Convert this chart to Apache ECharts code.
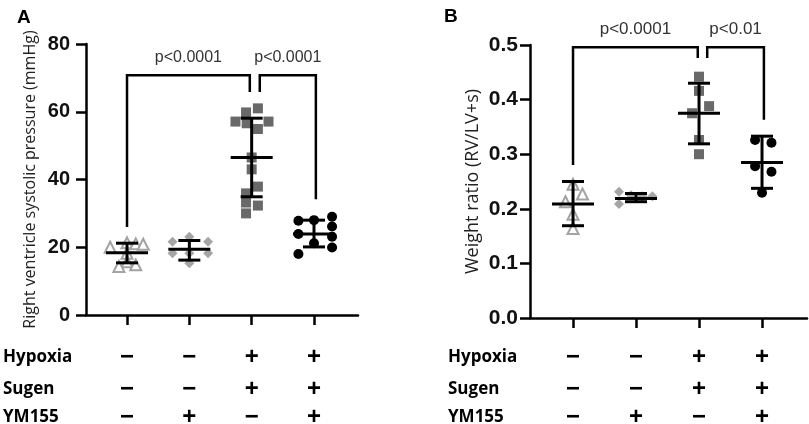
<!DOCTYPE html>
<html>
<head>
    <meta charset="UTF-8">
    <title></title>
    <script type="text/javascript" src="https://cdn.jsdelivr.net/npm/echarts@6/dist/echarts.min.js"></script>
</head>
<body style="margin:0;background:#fff">
<div id="main" style="width: 809px;height:424px;"></div>
<script type="text/javascript">
    // groups: control, YM155, Hypoxia+Sugen, Hypoxia+Sugen+YM155
    var rowNames = ['Hypoxia', 'Sugen', 'YM155'];
    var rowSigns = [['−', '−', '+', '+'], ['−', '−', '+', '+'], ['−', '+', '−', '+']];

    // A: right ventricle systolic pressure (mmHg), values and horizontal jitter per group
    var rvspValues = [
        [20.0, 21.3, 21.0, 20.9, 18.2, 15.7, 14.3, 14.8],
        [21.6, 23.1, 21.6, 18.2, 18.2, 18.2, 15.3],
        [59.8, 61.0, 57.1, 56.6, 57.1, 54.9, 46.5, 43.0, 37.9, 35.9, 33.2, 32.3, 30.0],
        [27.8, 28.0, 29.0, 26.1, 23.9, 23.1, 21.2, 19.9, 18.0]
    ];
    var rvspJitter = [
        [-0.27, 0, 0.14, 0.26, 0, 0, -0.13, 0.14],
        [-0.27, 0, 0.3, -0.27, 0, 0.3, 0],
        [-0.09, 0.1, -0.26, -0.08, 0.27, 0.1, 0, 0, 0.1, -0.09, -0.09, 0.1, -0.09],
        [-0.25, 0, 0.29, 0.29, -0.25, 0.29, 0, 0.29, -0.25]
    ];
    var rvspMean = [18.4, 19.4, 46.5, 23.9];
    var rvspLow = [15.4, 16.2, 34.9, 20.1];
    var rvspHigh = [21.2, 22.0, 58.1, 28.0];
    // brackets: [x left, y left end, x right, y right end, y top]
    var rvspBrackets = [[0, 26.0, 1.97, 65.8, 70.8], [2.13, 65.8, 3.03, 34.2, 70.8]];
    var rvspP = ['p<0.0001', 'p<0.0001'];

    // B: weight ratio RV/(LV+S)
    var ratioValues = [
        [0.245, 0.227, 0.213, 0.190, 0.164],
        [0.231, 0.225, 0.223, 0.223, 0.209],
        [0.442, 0.416, 0.388, 0.375, 0.326, 0.300],
        [0.326, 0.321, 0.278, 0.268, 0.2295]
    ];
    var ratioJitter = [
        [0, 0.15, -0.12, 0, 0],
        [-0.27, -0.08, 0.1, 0.26, -0.27],
        [0, 0, 0.16, -0.11, 0, 0],
        [-0.11, 0.15, -0.11, 0.15, 0]
    ];
    var ratioMean = [0.209, 0.219, 0.375, 0.285];
    var ratioLow = [0.169, 0.213, 0.319, 0.2375];
    var ratioHigh = [0.250, 0.228, 0.430, 0.333];
    var ratioBrackets = [[0, 0.280, 1.98, 0.476, 0.496], [2.13, 0.476, 3.03, 0.363, 0.496]];
    var ratioP = ['p<0.0001', 'p<0.01'];

    var groupSymbols = [
        {symbol: 'triangle', symbolSize: 11, itemStyle: {color: '#fff', borderColor: '#a3a3a3', borderWidth: 2, opacity: 1}},
        {symbol: 'diamond', symbolSize: 10, itemStyle: {color: '#a5a5a5', opacity: 1}},
        {symbol: 'rect', symbolSize: 10, itemStyle: {color: '#696969', opacity: 1}},
        {symbol: 'circle', symbolSize: 10, itemStyle: {color: '#000', opacity: 1}}
    ];

    var myChart = echarts.init(document.getElementById('main'));

    function mainX(grid, min, max) {
        return {
            type: 'value', gridIndex: grid, min: min, max: max,
            axisLine: {show: true, onZero: false, lineStyle: {color: '#000', width: 2.5}},
            axisTick: {show: true, customValues: [0, 1, 2, 3], length: 10, lineStyle: {color: '#000', width: 2.5}},
            axisLabel: {show: false},
            splitLine: {show: false}
        };
    }

    function rowX(grid, min, max, row, offset, gap) {
        return {
            type: 'value', gridIndex: grid, min: min, max: max, position: 'bottom', offset: offset,
            axisLine: {show: false, onZero: false}, axisTick: {show: false}, splitLine: {show: false},
            axisLabel: {
                customValues: [0, 1, 2, 3], margin: 0, verticalAlign: 'middle',
                fontFamily: 'Liberation Sans', fontWeight: 'bold', fontSize: 24, color: '#000',
                formatter: function (v) { return rowSigns[row][Math.round(v)]; }
            },
            name: rowNames[row], nameLocation: 'start', nameGap: gap,
            nameTextStyle: {align: 'left', verticalAlign: 'middle', fontFamily: 'Open Sans', fontWeight: 'bold', fontSize: 17, color: '#000'}
        };
    }

    function yAx(grid, max, interval, name, nameSize, margin, labelSize, fmt) {
        return {
            type: 'value', gridIndex: grid, min: 0, max: max, interval: interval,
            axisLine: {show: true, onZero: false, lineStyle: {color: '#000', width: 2.5}},
            axisTick: {show: true, length: 10, lineStyle: {color: '#000', width: 2.5}},
            splitLine: {show: false},
            axisLabel: {margin: margin, fontFamily: 'Liberation Sans', fontWeight: 'bold', fontSize: labelSize, color: '#111', formatter: fmt},
            name: name, nameLocation: 'middle', nameGap: 48,
            nameTextStyle: {fontFamily: 'Open Sans', fontSize: nameSize, color: '#222'}
        };
    }

    function scatterSeries(xi, yi, values, jitter) {
        return values.map(function (vals, g) {
            return Object.assign({
                type: 'scatter', xAxisIndex: xi, yAxisIndex: yi, z: 2, silent: true,
                data: vals.map(function (v, k) { return [g + jitter[g][k], v]; })
            }, groupSymbols[g]);
        });
    }

    function errorSeries(xi, yi, mean, low, high) {
        return {
            type: 'custom', xAxisIndex: xi, yAxisIndex: yi, z: 5, silent: true,
            encode: {x: 0, y: [1, 2, 3]},
            data: mean.map(function (m, i) { return [i, m, low[i], high[i]]; }),
            renderItem: function (params, api) {
                var c = api.coord([api.value(0), api.value(1)]);
                var lo = api.coord([api.value(0), api.value(2)]);
                var hi = api.coord([api.value(0), api.value(3)]);
                var st = {stroke: '#000', lineWidth: 3};
                return {type: 'group', children: [
                    {type: 'line', shape: {x1: c[0], y1: hi[1], x2: c[0], y2: lo[1]}, style: st},
                    {type: 'line', shape: {x1: c[0] - 11, y1: hi[1], x2: c[0] + 11, y2: hi[1]}, style: st},
                    {type: 'line', shape: {x1: c[0] - 11, y1: lo[1], x2: c[0] + 11, y2: lo[1]}, style: st},
                    {type: 'line', shape: {x1: c[0] - 21, y1: c[1], x2: c[0] + 21, y2: c[1]}, style: st}
                ]};
            }
        };
    }

    function bracketSeries(xi, yi, brackets, labels, size) {
        return {
            type: 'custom', xAxisIndex: xi, yAxisIndex: yi, z: 6, silent: true, clip: false,
            encode: {x: [0, 2], y: [1, 3, 4]},
            data: brackets,
            renderItem: function (params, api) {
                var a = api.coord([api.value(0), api.value(1)]);
                var b = api.coord([api.value(0), api.value(4)]);
                var c = api.coord([api.value(2), api.value(4)]);
                var d = api.coord([api.value(2), api.value(3)]);
                return {type: 'group', children: [
                    {type: 'polyline', shape: {points: [a, b, c, d]}, style: {stroke: '#000', lineWidth: 2.5, fill: null}},
                    {type: 'text', x: (b[0] + c[0]) / 2, y: b[1] - 18, style: {
                        text: labels[params.dataIndex], align: 'center', verticalAlign: 'middle',
                        textAlign: 'center', textVerticalAlign: 'middle',
                        font: size + 'px "Liberation Sans"', fill: '#333'
                    }}
                ]};
            }
        };
    }

    var option = {
        animation: false,
        title: [
            {text: 'A', left: 12, top: 3, textStyle: {fontFamily: 'Liberation Sans', fontWeight: 'bold', fontSize: 19, color: '#000'}},
            {text: 'B', left: 439, top: 2, textStyle: {fontFamily: 'Liberation Sans', fontWeight: 'bold', fontSize: 19, color: '#000'}}
        ],
        grid: [
            {left: 86, top: 44, width: 272, height: 271, outerBoundsMode: 'none'},
            {left: 530, top: 45, width: 277, height: 273, outerBoundsMode: 'none'}
        ],
        xAxis: [
            mainX(0, -0.658, 3.706),
            rowX(0, -0.658, 3.706, 0, 42, 83),
            rowX(0, -0.658, 3.706, 1, 74, 83),
            rowX(0, -0.658, 3.706, 2, 102, 83),
            mainX(1, -0.683, 3.714),
            rowX(1, -0.683, 3.714, 0, 39, 82),
            rowX(1, -0.683, 3.714, 1, 71, 82),
            rowX(1, -0.683, 3.714, 2, 99, 82)
        ],
        yAxis: [
            yAx(0, 80, 20, 'Right ventricle systolic pressure (mmHg)', 16, 16, 20, null),
            yAx(1, 0.5, 0.1, 'Weight ratio (RV/LV+s)', 18, 12, 21, function (v) { return v.toFixed(1); })
        ],
        series: [].concat(
            scatterSeries(0, 0, rvspValues, rvspJitter),
            [errorSeries(0, 0, rvspMean, rvspLow, rvspHigh), bracketSeries(0, 0, rvspBrackets, rvspP, 16)],
            scatterSeries(4, 1, ratioValues, ratioJitter),
            [errorSeries(4, 1, ratioMean, ratioLow, ratioHigh), bracketSeries(4, 1, ratioBrackets, ratioP, 17)]
        )
    };

    myChart.setOption(option);
</script>
</body>
</html>
